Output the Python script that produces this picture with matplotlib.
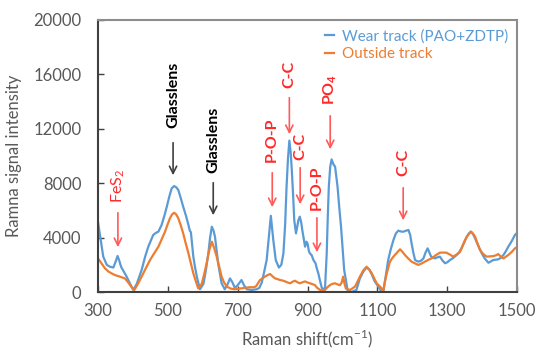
import matplotlib
matplotlib.use('Agg')
import matplotlib.pyplot as plt

# Raman spectra
shift_wear = [300, 308, 315, 325, 334, 344, 350, 356, 361, 366, 374, 382, 392, 401, 411, 425, 435, 444,
              458, 466, 473, 482, 490, 497, 504, 511, 518, 524, 530, 537, 544, 552, 559, 563, 566, 573,
              578, 583, 592, 602, 609, 616, 621, 626, 631, 635, 644, 654, 663, 670, 678, 685, 692, 700,
              711, 718, 726, 740, 754, 762, 769, 776, 783, 790, 795, 802, 809, 818, 825, 831, 836, 840,
              844, 848, 852, 855, 859, 862, 867, 874, 878, 882, 885, 893, 897, 900, 904, 907, 912, 917,
              923, 927, 931, 936, 941, 950, 955, 958, 961, 965, 969, 974, 979, 982, 986, 991, 996, 1005,
              1015, 1026, 1040, 1050, 1060, 1069, 1077, 1084, 1092, 1100, 1110, 1117, 1124, 1131, 1138,
              1146, 1153, 1160, 1167, 1174, 1181, 1189, 1194, 1198, 1203, 1208, 1217, 1225, 1232, 1238,
              1244, 1249, 1254, 1265, 1272, 1279, 1287, 1294, 1301, 1308, 1317, 1327, 1334, 1341, 1349,
              1356, 1362, 1368, 1374, 1380, 1389, 1399, 1408, 1418, 1425, 1432, 1440, 1446, 1453, 1461,
              1468, 1475, 1485, 1494, 1500]
wear_track = [5150, 3800, 2600, 2000, 1860, 1800, 2200, 2650, 2300, 1860, 1500, 1130, 600, 150, 600, 1620,
              2600, 3330, 4190, 4350, 4440, 4920, 5600, 6270, 7000, 7620, 7790, 7700, 7500, 6900, 6270,
              5600, 4930, 4500, 4400, 2600, 1800, 1130, 200, 600, 1600, 2840, 4000, 4800, 4500, 4070,
              2110, 640, 200, 500, 1000, 700, 300, 500, 880, 500, 200, 150, 200, 300, 700, 1500, 2350,
              4200, 5600, 3820, 2350, 1800, 2000, 2840, 5000, 7740, 9800, 11130, 10200, 8970, 7000,
              5290, 4310, 5290, 5540, 5100, 4560, 3330, 3700, 3580, 3000, 2840, 2700, 2350, 2110, 1700,
              1370, 800, 300, 200, 2840, 5500, 7740, 9200, 9750, 9400, 9210, 8600, 7740, 6200, 4800,
              1620, 100, 0, 150, 1000, 1500, 1800, 1650, 1300, 800, 500, 100, 0, 1200, 2350, 3100,
              3820, 4300, 4510, 4450, 4430, 4500, 4560, 4200, 3580, 2900, 2350, 2230, 2300, 2470, 2900,
              3210, 2900, 2600, 2470, 2550, 2600, 2300, 2110, 2200, 2350, 2500, 2720, 2900, 3210, 3650,
              4060, 4300, 4440, 4250, 3940, 3400, 2840, 2450, 2150, 2250, 2350, 2380, 2400, 2500, 2720,
              3000, 3330, 3750, 4190, 4350]

shift_outside = [300, 310, 320, 330, 339, 348, 358, 368, 377, 385, 392, 398, 404, 412, 425, 437, 449, 461,
                 473, 482, 492, 499, 506, 512, 518, 524, 530, 537, 544, 551, 559, 566, 573, 580, 587, 597,
                 604, 611, 618, 626, 633, 640, 647, 654, 661, 669, 680, 692, 706, 721, 733, 745, 752, 764,
                 778, 786, 793, 800, 807, 814, 821, 828, 836, 843, 850, 857, 864, 871, 878, 886, 893, 900,
                 907, 914, 921, 928, 936, 950, 957, 964, 971, 979, 986, 993, 998, 1002, 1006, 1010, 1022,
                 1036, 1043, 1050, 1060, 1069, 1077, 1084, 1091, 1098, 1108, 1117, 1122, 1127, 1136, 1143,
                 1150, 1158, 1165, 1172, 1179, 1189, 1198, 1208, 1217, 1227, 1236, 1245, 1255, 1267, 1279,
                 1289, 1298, 1308, 1317, 1327, 1337, 1344, 1351, 1360, 1368, 1374, 1380, 1387, 1394, 1403,
                 1413, 1422, 1432, 1440, 1446, 1454, 1461, 1468, 1475, 1485, 1494, 1500]
outside_track = [2470, 2100, 1740, 1500, 1370, 1250, 1170, 1080, 1000, 750, 510, 300, 150, 500, 1130, 1750,
                 2350, 2850, 3330, 3850, 4440, 4950, 5420, 5700, 5830, 5700, 5420, 4900, 4310, 3600, 2840,
                 2100, 1370, 800, 270, 600, 1300, 2110, 3000, 3700, 3200, 2600, 1850, 1130, 700, 400, 250,
                 200, 250, 300, 350, 350, 400, 880, 1130, 1250, 1320, 1150, 1000, 950, 880, 850, 780, 700,
                 640, 750, 830, 720, 640, 720, 780, 700, 640, 580, 510, 300, 150, 150, 350, 500, 600, 640,
                 560, 500, 700, 1130, 600, 250, 150, 400, 750, 1130, 1600, 1860, 1650, 1370, 1000, 640,
                 390, 100, 800, 1370, 2230, 2500, 2720, 2950, 3140, 2950, 2720, 2450, 2230, 2100, 1990,
                 2100, 2230, 2350, 2470, 2700, 2890, 2900, 2890, 2750, 2600, 2750, 2970, 3400, 3820, 4200,
                 4440, 4300, 4060, 3550, 3090, 2800, 2600, 2620, 2640, 2700, 2790, 2600, 2470, 2600, 2720,
                 2950, 3210, 3300]

series_names = ['Wear track (PAO+ZDTP)', 'Outside track']
x_ticks = [300, 500, 700, 900, 1100, 1300, 1500]
y_ticks = [0, 4000, 8000, 12000, 16000, 20000]

# peak labels: text, shift, arrow tip, arrow tail, text bottom, colour
peak_labels = [
    (r'FeS$_2$', 357, 3090, 6030, 6540, 'red'),
    ('Glasslens', 515, 8380, 11180, 12060, 'black'),
    ('Glasslens', 630, 5440, 8240, 8750, 'black'),
    ('P-O-P', 799, 6030, 8970, 9560, 'red'),
    ('C-C', 848, 11400, 14490, 15000, 'red'),
    ('C-C', 879, 6250, 9340, 9700, 'red'),
    ('P-O-P', 927, 2720, 5660, 6030, 'red'),
    (r'PO$_\mathbf{4}$', 965, 10290, 13160, 13750, 'red'),
    ('C-C', 1174, 5070, 7870, 8530, 'red'),
]

blue = '#5B9BD5'
orange = '#ED7D31'
text_red = '#FF2A2A'
arrow_red = '#FF5A5A'
dark = '#404040'
label_grey = '#595959'

plt.rcParams['font.family'] = ['Lato', 'DejaVu Sans']
plt.rcParams['mathtext.fontset'] = 'custom'
plt.rcParams['mathtext.rm'] = 'Lato'
plt.rcParams['mathtext.bf'] = 'Lato:bold'

fig = plt.figure(figsize=(5.37, 3.5), dpi=100)
ax = fig.add_axes([0.1825, 0.1657, 0.7803, 0.7772])

ax.plot(shift_wear, wear_track, color=blue, lw=1.6, label=series_names[0])
ax.plot(shift_outside, outside_track, color=orange, lw=1.6, label=series_names[1])

for text, x, tip, tail, text_y, kind in peak_labels:
    tcol = text_red if kind == 'red' else 'black'
    acol = arrow_red if kind == 'red' else dark
    weight = 'normal' if text.startswith('Fe') else 'bold'
    ax.annotate('', xy=(x, tip), xytext=(x, tail),
                arrowprops=dict(arrowstyle='->', color=acol, lw=1.2, mutation_scale=13))
    ax.text(x, text_y, text, rotation=90, ha='center', va='bottom', color=tcol,
            fontsize=11.5, fontweight=weight)

ax.set_xlim(300, 1500)
ax.set_ylim(0, 20000)
ax.set_xticks(x_ticks)
ax.set_yticks(y_ticks)
ax.tick_params(direction='in', length=4, width=1, colors=dark, labelcolor=label_grey,
               labelsize=12, pad=8)
ax.tick_params(axis='y', pad=12)
ax.set_xlabel('Raman shift(cm$^{-1}$)', fontsize=12, color=label_grey, labelpad=6)
ax.set_ylabel('Ramna signal intensity', fontsize=12, color=label_grey, labelpad=8)

for side in ['left', 'bottom']:
    ax.spines[side].set_color(dark)
    ax.spines[side].set_linewidth(1.5)
for side in ['top', 'right']:
    ax.spines[side].set_color('#8C8C8C')
    ax.spines[side].set_linewidth(1.5)

leg = ax.legend(loc='upper right', frameon=False, fontsize=11, handlelength=0.6,
                handletextpad=0.5, labelspacing=0.25, borderaxespad=0.2, labelcolor='linecolor')

fig.savefig('out.png', dpi=100)
